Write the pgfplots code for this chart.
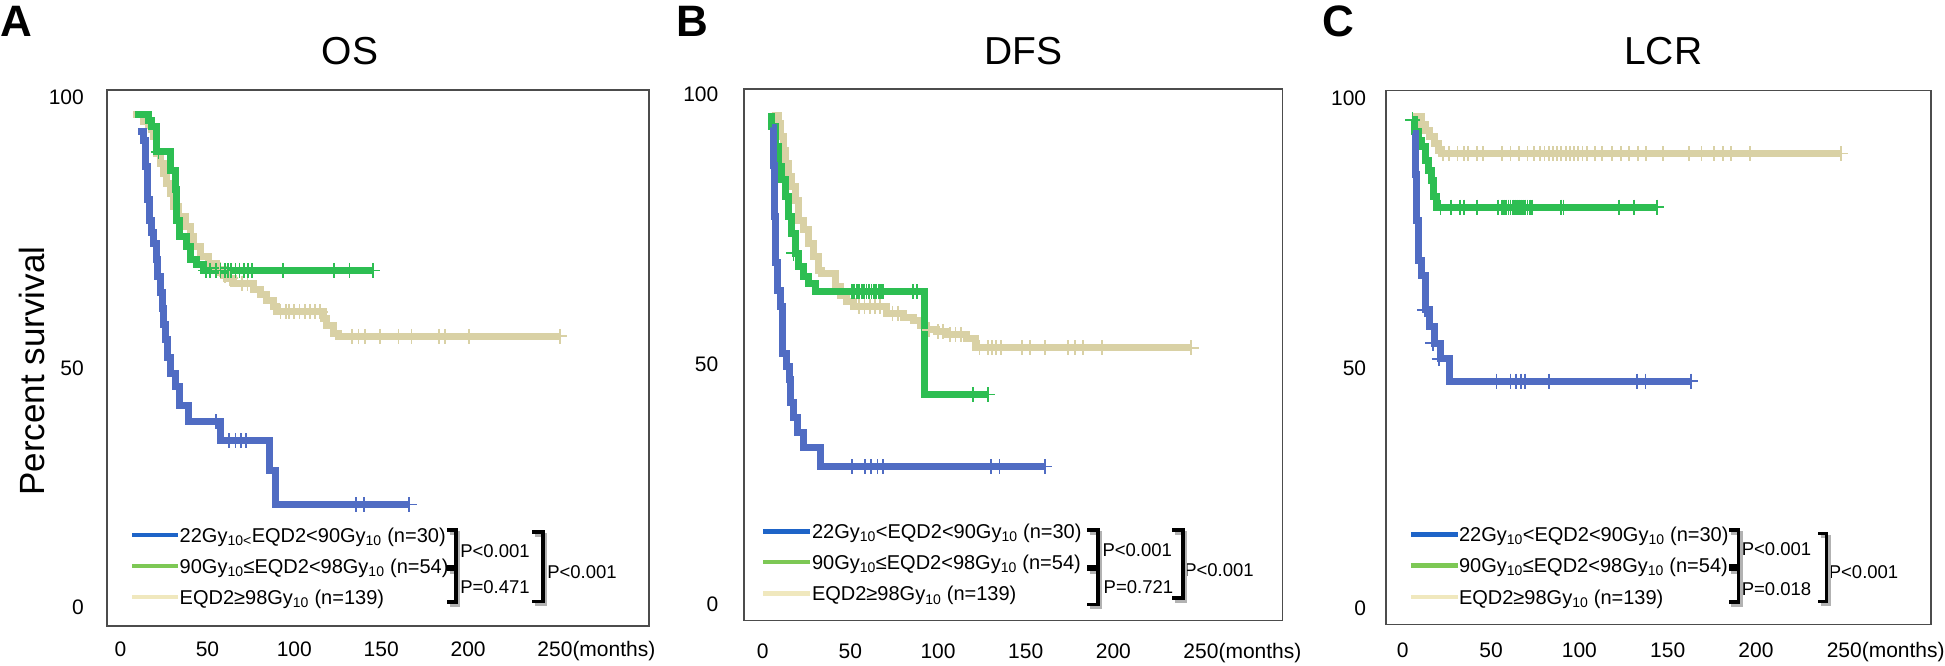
\documentclass[border=0pt]{standalone}
\usepackage{fontspec}
\setmainfont{Liberation Sans}
\usepackage{pgfplots}
\pgfplotsset{compat=1.18}
\definecolor{kmblue}{RGB}{80,108,195}
\definecolor{kmgreen}{RGB}{45,190,82}
\definecolor{kmtan}{RGB}{217,209,165}
\definecolor{lgblue}{RGB}{30,100,200}
\definecolor{lggreen}{RGB}{125,200,85}
\definecolor{lgtan}{RGB}{240,232,190}
\newcommand\lgfont{\fontsize{20}{24}\selectfont}
\newcommand\Ptext[1]{{\fontsize{18.5}{22}\selectfont #1}}
\pgfplotsset{
  kmaxis/.style={
    scale only axis, anchor=south west,
    axis line style={draw=black!70, line width=1.3pt},
    tick style={draw=none}, major tick length=0pt,
    xtick={0,50,100,150,200,250},
    xticklabels={0,50,100,150,200,{250\rlap{(months)}}},
    yticklabels={0,50,100},
    /pgf/number format/assume math mode=true,
    ticklabel style={font=\fontsize{21}{24}\selectfont, inner sep=0pt},
    xticklabel style={anchor=base},
    yticklabel style={anchor=east},
  },
  curve/.style={const plot, line width=7pt, line join=miter, #1},
  cens/.style={only marks, mark=+, mark size=7.5pt, mark options={line width=1.8pt}, #1},
}
\begin{document}
\begin{tikzpicture}[x=1pt,y=1pt]
% ---------------- Panel A: OS ----------------
\begin{axis}[kmaxis, at={(107pt,39pt)}, width=542pt, height=536pt,
  xmin=-7.8, xmax=304.1, ymin=-3.73, ymax=101.4, ytick={0,46.9,100},
  xticklabel style={yshift=-30.5pt}, yticklabel style={xshift=-23pt}]
\addplot[curve=kmtan] coordinates {(7.2,96.5) (13.1,95.2) (16,94.5) (17.9,93.6) (18.9,92.2) (20.8,89.0) (22.7,87.0) (24.6,85.1) (26.6,83.1) (28.5,81.1) (30.4,78.5) (33.3,76.6) (37.1,74.6) (40,72.6) (41.9,70.7) (45.8,68.7) (50.5,67.4) (55.4,66.1) (59.2,65.1) (61.1,64.5) (65,63.5) (76.4,62.2) (80.3,61.2) (84.1,60.2) (88,58.9) (89.9,57.9) (116.7,56.6) (118.7,55.3) (122.5,53.7) (125.3,53.1) (252.8,53.1)};
\addplot[cens=kmtan] coordinates {(57,66.1) (60,65.1) (63,64.5) (70,63.5) (73,63.5) (92,57.9) (95,57.9) (97,57.9) (100,57.9) (103,57.9) (106,57.9) (109,57.9) (112,57.9) (115,57.9) (133.2,53.1) (136.9,53.1) (140.5,53.1) (149.1,53.1) (160.0,53.1) (167.4,53.1) (183.2,53.1) (186.9,53.1) (200.3,53.1) (252.8,53.1)};
\addplot[curve=kmgreen] coordinates {(8.3,96.5) (16,95.5) (18,94.2) (20.8,89.3) (28.5,85.7) (31.4,81.8) (32.3,75.9) (34.2,72.6) (38.1,70.7) (40,68.1) (43.8,67.1) (47.7,66.0) (145.1,66.0)};
\addplot[cens=kmgreen] coordinates {(21.8,89.3) (49.0,66.0) (51.5,66.0) (55.1,66.0) (57.5,66.0) (60.0,66.0) (62.0,66.0) (63.6,66.0) (66.1,66.0) (68.5,66.0) (70.9,66.0) (73.4,66.0) (75.8,66.0) (93.3,66.0) (122.9,66.0) (131.7,66.0) (145.1,66.0)};
\addplot[curve=kmblue] coordinates {(10,93.3) (13,91.5) (14.3,86.4) (15.5,80) (16.5,75.9) (18,73.4) (19,71.3) (20.5,68.1) (21.5,64.8) (22.7,61.6) (24.2,58.6) (25,55.5) (25.8,52.4) (27,49) (28.5,45.8) (31.4,43.2) (34.2,39.6) (39.3,36.3) (57.6,32.6) (85.6,26.7) (89.3,20.1) (166.2,20.1)};
\addplot[cens=kmblue] coordinates {(55.1,36.3) (62.4,32.6) (66.1,32.6) (69.3,32.6) (72.2,32.6) (135.7,20.1) (140.1,20.1) (166.2,20.1)};
\end{axis}
% ---------------- Panel B: DFS ----------------
\begin{axis}[kmaxis, at={(744pt,44.6pt)}, width=538.5pt, height=531.4pt,
  xmin=-10.7, xmax=296.5, ymin=-3.16, ymax=101.0, ytick={0,47.0,100},
  xticklabel style={yshift=-38.1pt}, yticklabel style={xshift=-25.5pt}]
\addplot[curve=kmtan] coordinates {(5.1,95.9) (8.9,94.3) (9.9,91.7) (11.8,89.0) (12.7,86.4) (14.6,83.8) (16.5,81.8) (18.4,79.2) (20.3,75.3) (23.2,73.4) (26.0,70.8) (28.9,68.1) (31.7,65.5) (33.6,64.9) (41.3,62.3) (44.5,60.6) (47.9,59.3) (51.7,58.3) (70.7,57.0) (80,56.3) (85.9,55.7) (89.7,54.7) (93.5,53.8) (99.3,53.4) (105,52.8) (116.4,52.1) (121.1,50.3) (244.5,50.3)};
\addplot[cens=kmtan] coordinates {(55,58.3) (58,58.3) (61,58.3) (64,58.3) (67,58.3) (74,57.0) (77,57.0) (95,53.8) (100,53.4) (103,53.4) (107,52.8) (110,52.8) (113,52.8) (123.6,50.3) (128.4,50.3) (130.8,50.3) (133.2,50.3) (135.7,50.3) (147.7,50.3) (152.6,50.3) (161.0,50.3) (174.3,50.3) (178.0,50.3) (182.8,50.3) (193.7,50.3) (244.5,50.3)};
\addplot[curve=kmgreen] coordinates {(3.2,95.6) (5.1,93.6) (7.0,89.7) (8.9,85.8) (10.8,83.2) (12.7,79.9) (14.6,76.0) (16.5,72.7) (18.4,68.8) (20.3,66.2) (23.2,64.2) (26.0,62.9) (29.8,61.3) (92.5,41.1) (128.4,41.1)};
\addplot[cens=kmgreen] coordinates {(17.5,68.8) (50.8,61.3) (52.2,61.3) (53.6,61.3) (55,61.3) (56.4,61.3) (57.8,61.3) (59.2,61.3) (60.6,61.3) (62,61.3) (63.4,61.3) (64.8,61.3) (66.2,61.3) (67.6,61.3) (68.8,61.3) (85.9,61.3) (87.9,61.3) (119.9,41.1) (128.4,41.1)};
\addplot[curve=kmblue] coordinates {(5.0,93.5) (6.0,86) (6.8,76) (7.5,67) (8.5,61.6) (10.3,58.3) (11.5,49.2) (13.5,46.6) (15.2,44.0) (15.9,39.5) (17.6,36.6) (20.0,33.7) (23.2,30.8) (32.8,27.0) (161.0,27.0)};
\addplot[cens=kmblue] coordinates {(50.9,27.0) (58.2,27.0) (61.8,27.0) (65.5,27.0) (68.4,27.0) (130.3,27.0) (135.1,27.0) (161.0,27.0)};
\end{axis}
% ---------------- Panel C: LCR ----------------
\begin{axis}[kmaxis, at={(1386pt,40.7pt)}, width=545pt, height=534pt,
  xmin=-9.5, xmax=299.1, ymin=-3.08, ymax=101.6, ytick={0,47.2,100},
  xticklabel style={yshift=-33.2pt}, yticklabel style={xshift=-19.7pt}]
\addplot[curve=kmtan] coordinates {(5.0,96.4) (10.7,94.8) (12.6,93.8) (15.4,92.5) (18.2,91.2) (20.1,89.9) (22.0,89.2) (247.9,89.2)};
\addplot[cens=kmtan] coordinates {(22.6,89.2) (26.2,89.2) (31.0,89.2) (34.6,89.2) (37.0,89.2) (41.8,89.2) (45.4,89.2) (56.2,89.2) (61.0,89.2) (65.8,89.2) (70.6,89.2) (74.2,89.2) (77.8,89.2) (80.2,89.2) (82.6,89.2) (85.0,89.2) (87.4,89.2) (89.8,89.2) (92.2,89.2) (94.6,89.2) (97.0,89.2) (99.4,89.2) (101.8,89.2) (104.2,89.2) (109.0,89.2) (112.6,89.2) (118.6,89.2) (123.4,89.2) (128.3,89.2) (133.1,89.2) (137.9,89.2) (147.5,89.2) (161.9,89.2) (169.1,89.2) (176.3,89.2) (181.1,89.2) (185.9,89.2) (196.7,89.2) (247.9,89.2)};
\addplot[curve=kmgreen] coordinates {(5.0,95.8) (6.9,93.5) (8.8,91.8) (10.7,90.5) (12.6,87.9) (14.4,85.9) (16.4,83.9) (17.3,80.7) (19.2,78.7) (143.9,78.7)};
\addplot[cens=kmgreen] coordinates {(5.5,95.8) (21.4,78.7) (27.4,78.7) (32.2,78.7) (34.6,78.7) (41.8,78.7) (53.8,78.7) (56.2,78.7) (57.4,78.7) (58.6,78.7) (59.8,78.7) (61.0,78.7) (62.2,78.7) (63.4,78.7) (64.6,78.7) (65.8,78.7) (67.0,78.7) (68.2,78.7) (69.4,78.7) (70.6,78.7) (71.8,78.7) (73.0,78.7) (89.8,78.7) (91.0,78.7) (122.3,78.7) (130.7,78.7) (143.9,78.7)};
\addplot[curve=kmblue] coordinates {(6.0,93.2) (7.0,85) (7.8,76) (8.8,68.2) (10.6,65.3) (13.0,58.6) (15.4,55.3) (17.8,52.0) (21.4,49.0) (26.2,44.6) (163.1,44.6)};
\addplot[cens=kmblue] coordinates {(12.5,58.6) (17.0,52.0) (20.5,49.0) (53.1,44.6) (61.0,44.6) (63.9,44.6) (67.0,44.6) (69.4,44.6) (82.6,44.6) (132.6,44.6) (137.4,44.6) (163.1,44.6)};
\end{axis}
% ---------------- titles, letters, y label ----------------
\node[inner sep=0pt, font=\fontsize{39}{44}\selectfont] at (349.9,614) {OS};
\node[inner sep=0pt, font=\fontsize{39}{44}\selectfont] at (1023.8,614) {DFS};
\node[inner sep=0pt, font=\fontsize{39}{44}\selectfont] at (1663.2,614) {LCR};
\node[inner sep=0pt, anchor=north west, font=\fontsize{44}{48}\selectfont\bfseries] at (0,659) {A};
\node[inner sep=0pt, anchor=north west, font=\fontsize{44}{48}\selectfont\bfseries] at (676,659) {B};
\node[inner sep=0pt, anchor=north west, font=\fontsize{44}{48}\selectfont\bfseries] at (1321.8,659) {C};
\node[inner sep=0pt, rotate=90, font=\fontsize{35}{40}\selectfont] at (31.8,294) {Percent survival};
% ---------------- P values ----------------
\node[inner sep=0pt, anchor=west] at (460.1,113.7) {\Ptext{P<0.001}};
\node[inner sep=0pt, anchor=west] at (460.1,77.6) {\Ptext{P=0.471}};
\node[inner sep=0pt, anchor=west] at (547.1,93.3) {\Ptext{P<0.001}};
\node[inner sep=0pt, anchor=west] at (1102.3,114.5) {\Ptext{P<0.001}};
\node[inner sep=0pt, anchor=west] at (1103.5,77.6) {\Ptext{P=0.721}};
\node[inner sep=0pt, anchor=west] at (1184.1,94.6) {\Ptext{P<0.001}};
\node[inner sep=0pt, anchor=west] at (1741.6,115.8) {\Ptext{P<0.001}};
\node[inner sep=0pt, anchor=west] at (1741.6,75.5) {\Ptext{P=0.018}};
\node[inner sep=0pt, anchor=west] at (1828.6,92.5) {\Ptext{P<0.001}};
% ---------------- legends ----------------
% A
\draw[lgblue, line width=4.5pt] (132.3,129.8)--(178.1,129.8);
\draw[lggreen, line width=4.5pt] (132.3,98.8)--(178.1,98.8);
\draw[lgtan, line width=4.5pt] (132.3,67.9)--(178.1,67.9);
\node[inner sep=0pt, anchor=base west, font=\lgfont] at (179.5,122.6) {22Gy\textsubscript{10<}EQD2<90Gy\textsubscript{10} (n=30)};
\node[inner sep=0pt, anchor=base west, font=\lgfont] at (179.5,91.6) {90Gy\textsubscript{10}≤EQD2<98Gy\textsubscript{10} (n=54)};
\node[inner sep=0pt, anchor=base west, font=\lgfont] at (179.5,60.7) {EQD2≥98Gy\textsubscript{10} (n=139)};
% B
\draw[lgblue, line width=4.5pt] (763,133.6)--(809.6,133.6);
\draw[lggreen, line width=4.5pt] (763,103.1)--(809.6,103.1);
\draw[lgtan, line width=4.5pt] (763,71.3)--(809.6,71.3);
\node[inner sep=0pt, anchor=base west, font=\lgfont] at (811.8,126.4) {22Gy\textsubscript{10}<EQD2<90Gy\textsubscript{10} (n=30)};
\node[inner sep=0pt, anchor=base west, font=\lgfont] at (811.8,95.9) {90Gy\textsubscript{10}≤EQD2<98Gy\textsubscript{10} (n=54)};
\node[inner sep=0pt, anchor=base west, font=\lgfont] at (811.8,64.1) {EQD2≥98Gy\textsubscript{10} (n=139)};
% C
\draw[lgblue, line width=4.5pt] (1410.9,130.6)--(1457.5,130.6);
\draw[lggreen, line width=4.5pt] (1410.9,99.7)--(1457.5,99.7);
\draw[lgtan, line width=4.5pt] (1410.9,67.9)--(1457.5,67.9);
\node[inner sep=0pt, anchor=base west, font=\lgfont] at (1458.8,123.4) {22Gy\textsubscript{10}<EQD2<90Gy\textsubscript{10} (n=30)};
\node[inner sep=0pt, anchor=base west, font=\lgfont] at (1458.8,92.5) {90Gy\textsubscript{10}≤EQD2<98Gy\textsubscript{10} (n=54)};
\node[inner sep=0pt, anchor=base west, font=\lgfont] at (1458.8,60.7) {EQD2≥98Gy\textsubscript{10} (n=139)};
% ---------------- brackets ----------------
\foreach \dx/\dy/\col in {2.5/-3/black!30, 0/0/black}{
 \begin{scope}[shift={(\dx,\dy)}, draw=\col, line width=3.5pt, line join=miter]
 \draw (447.4,134.9)--(455.9,134.9)--(455.9,98.6)--(447.4,98.6);
 \draw (447.4,95.4)--(455.9,95.4)--(455.9,62.8)--(447.4,62.8);
 \draw (532.2,132.8)--(542.8,132.8)--(542.8,63.6)--(532.2,63.6);
 \draw (1087.4,134.9)--(1098,134.9)--(1098,98.6)--(1087.4,98.6);
 \draw (1087.4,95.4)--(1098,95.4)--(1098,60.7)--(1087.4,60.7);
 \draw (1172.2,134.9)--(1182.8,134.9)--(1182.8,67)--(1172.2,67);
 \draw (1728.9,134.9)--(1738.7,134.9)--(1738.7,98.8)--(1728.9,98.8);
 \draw (1728.9,95.6)--(1738.7,95.6)--(1738.7,62.8)--(1728.9,62.8);
 \draw (1818,131.5)--(1826.5,131.5)--(1826.5,63.6)--(1818,63.6);
 \end{scope}
}
\pgfresetboundingbox
\useasboundingbox (0,0) rectangle (1945,665);
\end{tikzpicture}
\end{document}
